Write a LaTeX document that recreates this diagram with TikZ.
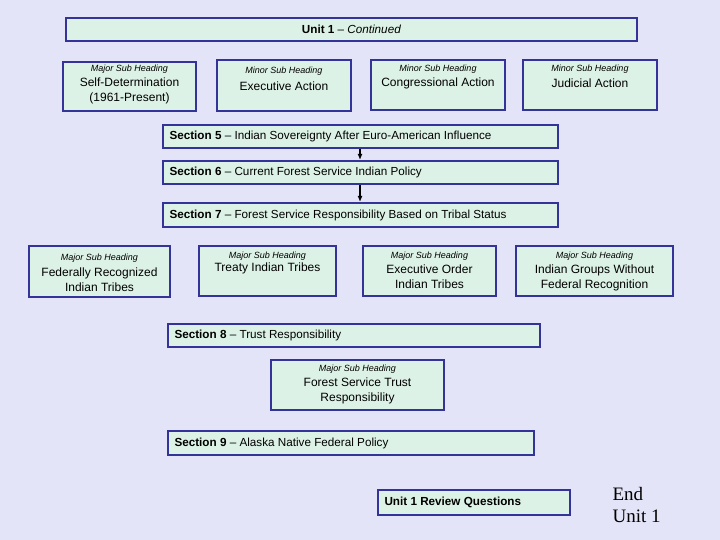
\documentclass[tikz,border=0pt]{standalone}
\usepackage{fontspec}
\usetikzlibrary{arrows.meta}
\setmainfont{Liberation Sans}
\newfontfamily\endfont{Liberation Serif}
\begin{document}
\begin{tikzpicture}[x=1pt,y=-1pt,
 bx/.style={draw=navy,line width=1.6pt,fill=boxg},
 sm/.style={font=\fontsize{9}{10}\selectfont\itshape},
 tx/.style={font=\fontsize{12}{15}\selectfont,align=center},
 sec/.style={font=\fontsize{11.7}{13}\selectfont,anchor=west}]
\definecolor{navy}{HTML}{333399}
\definecolor{boxg}{HTML}{DDF2E6}
\definecolor{bg}{HTML}{E4E4F8}
\fill[bg] (0,0) rectangle (720,540);
\useasboundingbox (0,0) rectangle (720,540);
\newcommand\bbox[5]{\draw[bx] (#1,#2) rectangle (#3,#4); \coordinate (#5) at ({(#1+#3)/2},#2);}
% header
\draw[bx] (66,18) rectangle (637,41);
\node[font=\fontsize{11.7}{13}\selectfont] (h) at (351.5,29) {\textbf{Unit 1} -- \textit{Continued}};
% row 1
\bbox{63}{62}{196}{111}{a}
\node[sm] (a1) at (129.5,69) {Major Sub Heading};
\node[tx,anchor=north] (a2) at (129.5,74) {Self-Determination\\(1961-Present)};
\bbox{217}{60}{351}{111}{b}
\node[sm] (b1) at (284,71) {Minor Sub Heading};
\node[tx] (b2) at (284,86) {Executive Action};
\bbox{371}{60}{505}{110}{c}
\node[sm] (c1) at (438,69) {Minor Sub Heading};
\node[tx] (c2) at (438,83) {Congressional Action};
\bbox{523}{60}{657}{110}{d}
\node[sm] (d1) at (590,69) {Minor Sub Heading};
\node[tx] (d2) at (590,83) {Judicial Action};
% sections
\draw[bx] (163,125) rectangle (558,148);
\node[sec] (s5) at (166,136.5) {\textbf{Section 5} -- Indian Sovereignty After Euro-American Influence};
\draw[bx] (163,161) rectangle (558,184);
\node[sec] (s6) at (166,172.5) {\textbf{Section 6} -- Current Forest Service Indian Policy};
\draw[bx] (163,203) rectangle (558,227);
\node[sec] (s7) at (166,215) {\textbf{Section 7} -- Forest Service Responsibility Based on Tribal Status};
\coordinate (p5) at (360,149); \coordinate (p6) at (360,160);
\coordinate (q6) at (360,185); \coordinate (q7) at (360,202);
\draw[-{Latex[length=6pt,width=5pt]},line width=1.3pt] (p5) -- (p6);
\draw[-{Latex[length=6pt,width=5pt]},line width=1.3pt] (q6) -- (q7);
% row 2
\bbox{29}{246}{170}{297}{e}
\node[sm] (e1) at (99.5,258) {Major Sub Heading};
\node[tx,anchor=north] (e2) at (99.5,264) {Federally Recognized\\Indian Tribes};
\bbox{199}{246}{336}{296}{f}
\node[sm] (f1) at (267.5,256) {Major Sub Heading};
\node[tx] (f2) at (267.5,268.5) {Treaty Indian Tribes};
\bbox{363}{246}{496}{296}{g}
\node[sm] (g1) at (429.5,256) {Major Sub Heading};
\node[tx,anchor=north] (g2) at (429.5,261) {Executive Order\\Indian Tribes};
\bbox{516}{246}{673}{296}{k}
\node[sm] (k1) at (594.5,256) {Major Sub Heading};
\node[tx,anchor=north] (k2) at (594.5,261) {Indian Groups Without\\Federal Recognition};
% section 8
\draw[bx] (168,324) rectangle (540,347);
\node[sec] (s8) at (171,335) {\textbf{Section 8} -- Trust Responsibility};
\bbox{271}{360}{444}{410}{m}
\node[sm] (m1) at (357.5,369.5) {Major Sub Heading};
\node[tx,anchor=north] (m2) at (357.5,374.5) {Forest Service Trust\\Responsibility};
\draw[bx] (168,431) rectangle (534,455);
\node[sec] (s9) at (171,443) {\textbf{Section 9} -- Alaska Native Federal Policy};
\draw[bx] (378,490) rectangle (570,515);
\node[sec] (r) at (381,502.5) {\textbf{Unit 1 Review Questions}};
\node[font=\endfont\fontsize{19}{22}\selectfont,align=left,anchor=north west] (end) at (609,484) {End\\Unit 1};
\end{tikzpicture}
\end{document}
